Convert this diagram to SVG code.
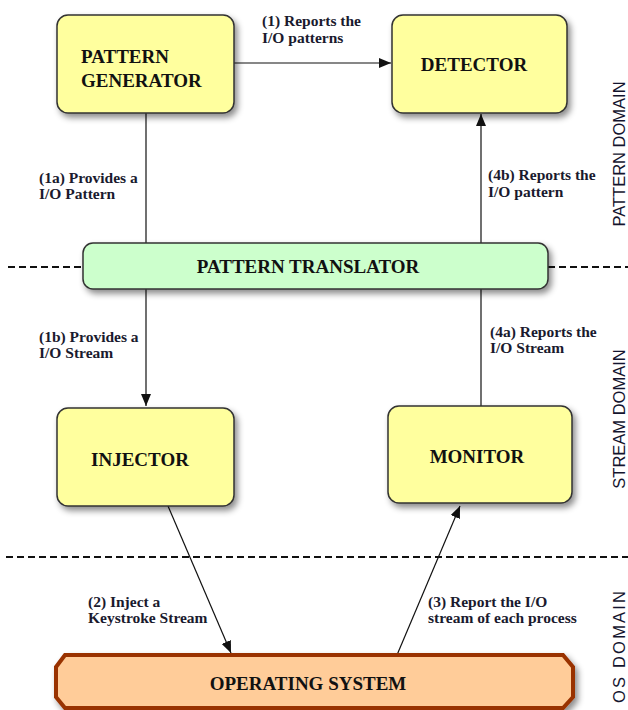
<svg xmlns="http://www.w3.org/2000/svg" width="628" height="710" viewBox="0 0 628 710">
<style>
.node{fill:#FFFF9E;stroke:#333;stroke-width:1.5}
.tr{fill:#CCFFCC;stroke:#333;stroke-width:1.5}
.os{fill:#FFCC99;stroke:#993300;stroke-width:4;stroke-linejoin:miter}
.nt{font-family:"Liberation Serif","Times New Roman",serif;font-weight:bold;font-size:19px;fill:#111}
.lb{font-family:"Liberation Serif","Times New Roman",serif;font-weight:bold;font-size:15.5px;fill:#1a1a2e}
.dom{font-family:"Liberation Sans",Arial,sans-serif;font-size:16.5px;fill:#14142e}
.ln{stroke:#111;stroke-width:1.2;fill:none}
.dash{stroke:#111;stroke-width:2;stroke-dasharray:7 4;fill:none}
</style>
<defs>
<filter id="sh" x="-10%" y="-20%" width="130%" height="150%">
<feDropShadow dx="3" dy="4" stdDeviation="3" flood-color="#000" flood-opacity="0.45"/>
</filter>
<marker id="ah" markerUnits="userSpaceOnUse" markerWidth="13" markerHeight="10" refX="12" refY="5" orient="auto">
<path d="M0,0 L12,5 L0,10 Z" fill="#111"/>
</marker>
</defs>
<g id="domains">
<line class="dash" x1="8" y1="267" x2="84" y2="267"/>
<line class="dash" x1="548" y1="267" x2="628" y2="267"/>
<line class="dash" x1="6" y1="557" x2="628" y2="557"/>
<text class="dom" transform="translate(625,154) rotate(-90)" text-anchor="middle">PATTERN DOMAIN</text>
<text class="dom" transform="translate(625,419) rotate(-90)" text-anchor="middle">STREAM DOMAIN</text>
<text class="dom" transform="translate(625,647) rotate(-90)" text-anchor="middle" textLength="112">OS DOMAIN</text>
</g>
<g id="connectors">
<line class="ln" x1="234" y1="63" x2="391" y2="63" marker-end="url(#ah)"/>
<line class="ln" x1="146" y1="113" x2="146" y2="243"/>
<line class="ln" x1="146" y1="289" x2="146" y2="406" marker-end="url(#ah)"/>
<line class="ln" x1="168" y1="506" x2="231" y2="653" marker-end="url(#ah)"/>
<line class="ln" x1="397" y1="655" x2="460" y2="506" marker-end="url(#ah)"/>
<line class="ln" x1="481" y1="406" x2="481" y2="289"/>
<line class="ln" x1="481" y1="243" x2="481" y2="114" marker-end="url(#ah)"/>
<text class="lb" x="262" y="26">(1) Reports the</text>
<text class="lb" x="262" y="43">I/O patterns</text>
<text class="lb" x="39" y="183">(1a) Provides a</text>
<text class="lb" x="39" y="199">I/O Pattern</text>
<text class="lb" x="488" y="180">(4b) Reports the</text>
<text class="lb" x="488" y="197">I/O pattern</text>
<text class="lb" x="39" y="342">(1b) Provides a</text>
<text class="lb" x="39" y="358">I/O Stream</text>
<text class="lb" x="490" y="337">(4a) Reports the</text>
<text class="lb" x="490" y="353">I/O Stream</text>
<text class="lb" x="88" y="607">(2) Inject a</text>
<text class="lb" x="88" y="623">Keystroke Stream</text>
<text class="lb" x="428" y="607">(3) Report the I/O</text>
<text class="lb" x="428" y="623">stream of each process</text>
</g>
<g id="pattern-generator">
<rect class="node" x="57" y="15" width="177" height="98" rx="11" filter="url(#sh)"/>
<text class="nt" x="81" y="63">PATTERN</text>
<text class="nt" x="81" y="87">GENERATOR</text>
</g>
<g id="detector">
<rect class="node" x="392" y="15" width="175" height="98" rx="11" filter="url(#sh)"/>
<text class="nt" x="474" y="71" text-anchor="middle">DETECTOR</text>
</g>
<g id="pattern-translator">
<rect class="tr" x="83" y="243" width="465" height="46" rx="10" filter="url(#sh)"/>
<text class="nt" x="308" y="273" text-anchor="middle">PATTERN TRANSLATOR</text>
</g>
<g id="injector">
<rect class="node" x="57" y="408" width="177" height="98" rx="11" filter="url(#sh)"/>
<text class="nt" x="140" y="466" text-anchor="middle">INJECTOR</text>
</g>
<g id="monitor">
<rect class="node" x="388" y="406" width="184" height="97" rx="11" filter="url(#sh)"/>
<text class="nt" x="477" y="463" text-anchor="middle">MONITOR</text>
</g>
<g id="operating-system">
<path class="os" d="M65,655 L563,655 L573,667 L573,697 L563,708 L65,708 L56,697 L56,667 Z" filter="url(#sh)"/>
<text class="nt" x="308" y="690" text-anchor="middle">OPERATING SYSTEM</text>
</g>
</svg>
